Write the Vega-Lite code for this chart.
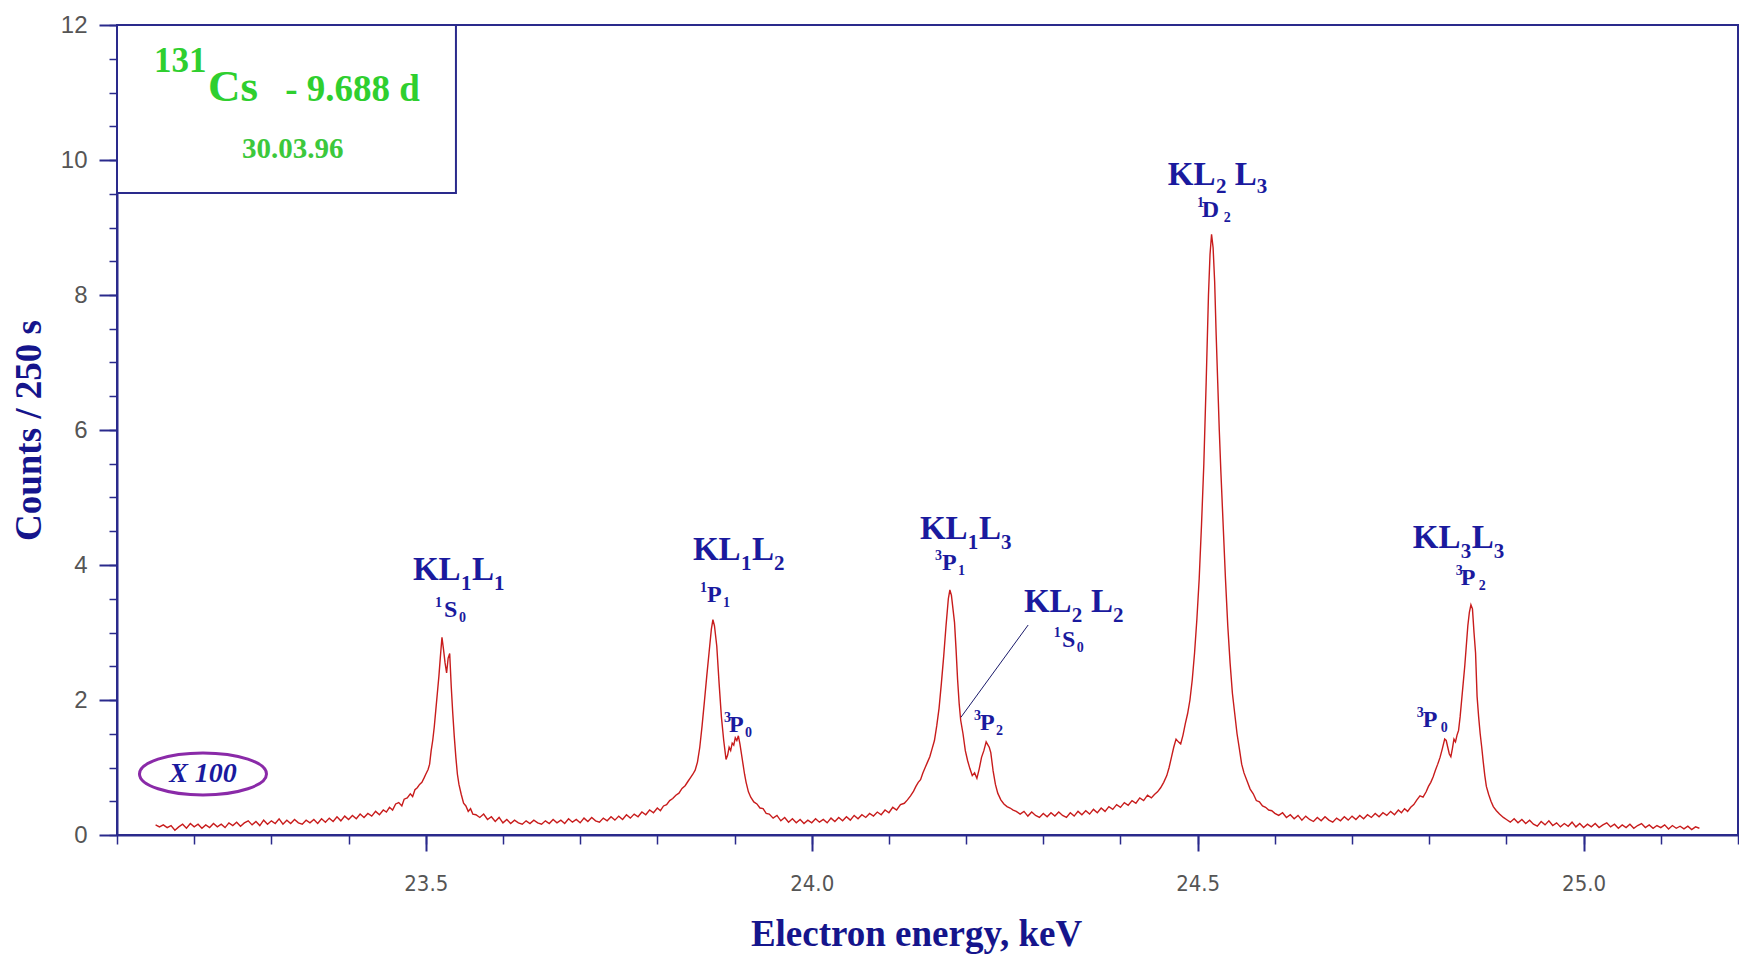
{
  "$schema": "https://vega.github.io/schema/vega-lite/v6.json",
  "width": 1621,
  "height": 810,
  "autosize": {"type": "none"},
  "padding": {"left": 117, "top": 25, "right": 1, "bottom": 121},
  "background": "white",
  "config": {
    "view": {"stroke": "#2a2a8c", "strokeWidth": 2},
    "axis": {"grid": false, "domainColor": "#2a2a8c", "tickColor": "#2a2a8c"}
  },
  "resolve": {"axis": {"x": "independent", "y": "independent"}},
  "datasets": {
    "spec": [
      {"e":23.150,"c":0.15},{"e":23.155,"c":0.12},{"e":23.160,"c":0.15},{"e":23.165,"c":0.11},{"e":23.170,"c":0.14},{"e":23.175,"c":0.07},{"e":23.180,"c":0.12},{"e":23.185,"c":0.16},{"e":23.190,"c":0.10},{"e":23.195,"c":0.17},
      {"e":23.200,"c":0.12},{"e":23.205,"c":0.16},{"e":23.210,"c":0.10},{"e":23.215,"c":0.15},{"e":23.220,"c":0.11},{"e":23.225,"c":0.17},{"e":23.230,"c":0.12},{"e":23.235,"c":0.16},{"e":23.240,"c":0.11},{"e":23.245,"c":0.18},
      {"e":23.250,"c":0.14},{"e":23.255,"c":0.19},{"e":23.260,"c":0.13},{"e":23.265,"c":0.18},{"e":23.270,"c":0.21},{"e":23.275,"c":0.15},{"e":23.280,"c":0.20},{"e":23.285,"c":0.14},{"e":23.290,"c":0.22},{"e":23.295,"c":0.16},
      {"e":23.300,"c":0.21},{"e":23.305,"c":0.17},{"e":23.310,"c":0.24},{"e":23.315,"c":0.16},{"e":23.320,"c":0.22},{"e":23.325,"c":0.17},{"e":23.330,"c":0.23},{"e":23.335,"c":0.18},{"e":23.340,"c":0.16},{"e":23.345,"c":0.22},
      {"e":23.350,"c":0.18},{"e":23.355,"c":0.23},{"e":23.360,"c":0.17},{"e":23.365,"c":0.24},{"e":23.370,"c":0.19},{"e":23.375,"c":0.25},{"e":23.380,"c":0.20},{"e":23.385,"c":0.27},{"e":23.390,"c":0.21},{"e":23.395,"c":0.28},
      {"e":23.400,"c":0.23},{"e":23.405,"c":0.29},{"e":23.410,"c":0.24},{"e":23.415,"c":0.31},{"e":23.420,"c":0.26},{"e":23.425,"c":0.32},{"e":23.430,"c":0.28},{"e":23.435,"c":0.35},{"e":23.440,"c":0.30},{"e":23.445,"c":0.37},
      {"e":23.449,"c":0.34},{"e":23.453,"c":0.41},{"e":23.457,"c":0.37},{"e":23.461,"c":0.46},{"e":23.465,"c":0.48},{"e":23.469,"c":0.43},{"e":23.472,"c":0.53},{"e":23.476,"c":0.55},{"e":23.480,"c":0.61},{"e":23.483,"c":0.57},
      {"e":23.486,"c":0.67},{"e":23.489,"c":0.70},{"e":23.492,"c":0.75},{"e":23.495,"c":0.78},{"e":23.498,"c":0.85},{"e":23.500,"c":0.90},{"e":23.503,"c":0.97},{"e":23.505,"c":1.05},{"e":23.507,"c":1.25},{"e":23.509,"c":1.40},
      {"e":23.511,"c":1.60},{"e":23.513,"c":1.85},{"e":23.515,"c":2.10},{"e":23.517,"c":2.35},{"e":23.519,"c":2.65},{"e":23.521,"c":2.93},{"e":23.523,"c":2.75},{"e":23.525,"c":2.55},{"e":23.527,"c":2.40},{"e":23.529,"c":2.62},
      {"e":23.531,"c":2.69},{"e":23.533,"c":2.20},{"e":23.535,"c":1.80},{"e":23.537,"c":1.45},{"e":23.539,"c":1.15},{"e":23.541,"c":0.90},{"e":23.543,"c":0.75},{"e":23.546,"c":0.60},{"e":23.549,"c":0.47},{"e":23.552,"c":0.43},
      {"e":23.555,"c":0.35},{"e":23.558,"c":0.39},{"e":23.561,"c":0.31},{"e":23.565,"c":0.30},
      {"e":23.570,"c":0.26},{"e":23.575,"c":0.31},{"e":23.580,"c":0.23},{"e":23.585,"c":0.27},{"e":23.590,"c":0.20},{"e":23.595,"c":0.26},{"e":23.600,"c":0.18},{"e":23.605,"c":0.23},{"e":23.610,"c":0.17},{"e":23.615,"c":0.22},
      {"e":23.620,"c":0.18},{"e":23.625,"c":0.16},{"e":23.630,"c":0.21},{"e":23.635,"c":0.17},{"e":23.640,"c":0.22},{"e":23.645,"c":0.18},{"e":23.650,"c":0.16},{"e":23.655,"c":0.21},{"e":23.660,"c":0.17},{"e":23.665,"c":0.23},
      {"e":23.670,"c":0.18},{"e":23.675,"c":0.22},{"e":23.680,"c":0.17},{"e":23.685,"c":0.24},{"e":23.690,"c":0.19},{"e":23.695,"c":0.23},{"e":23.700,"c":0.18},{"e":23.705,"c":0.25},{"e":23.710,"c":0.20},{"e":23.715,"c":0.26},
      {"e":23.720,"c":0.21},{"e":23.725,"c":0.19},{"e":23.730,"c":0.25},{"e":23.735,"c":0.21},{"e":23.740,"c":0.27},{"e":23.745,"c":0.22},{"e":23.750,"c":0.28},{"e":23.755,"c":0.23},{"e":23.760,"c":0.30},{"e":23.765,"c":0.25},
      {"e":23.770,"c":0.31},{"e":23.775,"c":0.27},{"e":23.780,"c":0.34},{"e":23.785,"c":0.30},{"e":23.790,"c":0.37},{"e":23.795,"c":0.33},
      {"e":23.800,"c":0.40},{"e":23.804,"c":0.36},{"e":23.808,"c":0.43},{"e":23.812,"c":0.45},{"e":23.816,"c":0.51},{"e":23.820,"c":0.54},{"e":23.824,"c":0.59},{"e":23.828,"c":0.62},{"e":23.832,"c":0.69},{"e":23.836,"c":0.73},
      {"e":23.840,"c":0.80},{"e":23.843,"c":0.85},{"e":23.846,"c":0.90},{"e":23.849,"c":0.96},{"e":23.852,"c":1.08},{"e":23.855,"c":1.30},{"e":23.858,"c":1.62},{"e":23.861,"c":1.98},{"e":23.864,"c":2.35},{"e":23.867,"c":2.70},
      {"e":23.870,"c":3.05},{"e":23.872,"c":3.19},{"e":23.874,"c":3.10},{"e":23.877,"c":2.80},{"e":23.880,"c":2.25},{"e":23.883,"c":1.75},{"e":23.886,"c":1.40},{"e":23.889,"c":1.12},{"e":23.891,"c":1.18},{"e":23.893,"c":1.30},
      {"e":23.895,"c":1.25},{"e":23.897,"c":1.36},{"e":23.899,"c":1.33},{"e":23.901,"c":1.44},{"e":23.903,"c":1.40},{"e":23.905,"c":1.47},{"e":23.907,"c":1.35},{"e":23.909,"c":1.20},{"e":23.911,"c":1.05},{"e":23.913,"c":0.90},
      {"e":23.915,"c":0.78},{"e":23.918,"c":0.64},{"e":23.921,"c":0.56},{"e":23.925,"c":0.49},{"e":23.929,"c":0.46},{"e":23.933,"c":0.40},{"e":23.937,"c":0.39},{"e":23.941,"c":0.32},{"e":23.945,"c":0.31},
      {"e":23.950,"c":0.25},{"e":23.955,"c":0.29},{"e":23.960,"c":0.21},{"e":23.965,"c":0.26},{"e":23.970,"c":0.19},{"e":23.975,"c":0.24},{"e":23.980,"c":0.18},{"e":23.985,"c":0.23},{"e":23.990,"c":0.17},{"e":23.995,"c":0.22},
      {"e":24.000,"c":0.18},{"e":24.005,"c":0.24},{"e":24.010,"c":0.19},{"e":24.015,"c":0.23},{"e":24.020,"c":0.18},{"e":24.025,"c":0.25},{"e":24.030,"c":0.20},{"e":24.035,"c":0.26},{"e":24.040,"c":0.21},{"e":24.045,"c":0.27},
      {"e":24.050,"c":0.22},{"e":24.055,"c":0.29},{"e":24.060,"c":0.24},{"e":24.065,"c":0.30},{"e":24.070,"c":0.26},{"e":24.075,"c":0.32},{"e":24.080,"c":0.28},{"e":24.085,"c":0.34},{"e":24.090,"c":0.30},{"e":24.095,"c":0.37},
      {"e":24.100,"c":0.33},{"e":24.105,"c":0.41},{"e":24.110,"c":0.37},{"e":24.115,"c":0.45},
      {"e":24.120,"c":0.47},{"e":24.124,"c":0.52},{"e":24.128,"c":0.58},{"e":24.132,"c":0.65},{"e":24.135,"c":0.72},{"e":24.138,"c":0.78},{"e":24.141,"c":0.82},{"e":24.144,"c":0.92},{"e":24.147,"c":1.00},{"e":24.150,"c":1.08},
      {"e":24.153,"c":1.16},{"e":24.156,"c":1.28},{"e":24.159,"c":1.40},{"e":24.162,"c":1.62},{"e":24.165,"c":1.88},{"e":24.168,"c":2.25},{"e":24.171,"c":2.65},{"e":24.174,"c":3.10},{"e":24.177,"c":3.50},{"e":24.179,"c":3.63},
      {"e":24.181,"c":3.55},{"e":24.183,"c":3.35},{"e":24.185,"c":3.15},{"e":24.187,"c":2.75},{"e":24.189,"c":2.30},{"e":24.191,"c":1.95},{"e":24.193,"c":1.70},{"e":24.196,"c":1.50},{"e":24.199,"c":1.25},{"e":24.202,"c":1.10},
      {"e":24.205,"c":0.98},{"e":24.208,"c":0.88},{"e":24.211,"c":0.92},{"e":24.214,"c":0.84},{"e":24.217,"c":0.98},{"e":24.220,"c":1.15},{"e":24.223,"c":1.25},{"e":24.226,"c":1.38},{"e":24.228,"c":1.34},{"e":24.230,"c":1.30},
      {"e":24.232,"c":1.22},{"e":24.235,"c":0.95},{"e":24.238,"c":0.75},{"e":24.241,"c":0.62},{"e":24.245,"c":0.52},{"e":24.249,"c":0.46},{"e":24.253,"c":0.42},{"e":24.257,"c":0.40},{"e":24.261,"c":0.37},{"e":24.265,"c":0.35},
      {"e":24.270,"c":0.31},{"e":24.275,"c":0.35},{"e":24.280,"c":0.28},{"e":24.285,"c":0.34},{"e":24.290,"c":0.29},{"e":24.295,"c":0.26},{"e":24.300,"c":0.32},{"e":24.305,"c":0.27},{"e":24.310,"c":0.33},{"e":24.315,"c":0.28},
      {"e":24.320,"c":0.34},{"e":24.325,"c":0.29},{"e":24.330,"c":0.26},{"e":24.335,"c":0.33},{"e":24.340,"c":0.28},{"e":24.345,"c":0.35},{"e":24.350,"c":0.30},{"e":24.355,"c":0.36},{"e":24.360,"c":0.31},{"e":24.365,"c":0.38},
      {"e":24.370,"c":0.33},{"e":24.375,"c":0.40},{"e":24.380,"c":0.35},{"e":24.385,"c":0.42},{"e":24.390,"c":0.38},{"e":24.395,"c":0.45},{"e":24.400,"c":0.41},{"e":24.405,"c":0.48},{"e":24.410,"c":0.44},{"e":24.415,"c":0.51},
      {"e":24.420,"c":0.47},{"e":24.425,"c":0.55},{"e":24.430,"c":0.51},{"e":24.435,"c":0.59},
      {"e":24.440,"c":0.55},{"e":24.444,"c":0.60},{"e":24.448,"c":0.64},{"e":24.452,"c":0.70},{"e":24.456,"c":0.78},{"e":24.460,"c":0.88},{"e":24.463,"c":1.00},{"e":24.466,"c":1.15},{"e":24.469,"c":1.30},{"e":24.472,"c":1.42},
      {"e":24.475,"c":1.38},{"e":24.478,"c":1.35},{"e":24.481,"c":1.48},{"e":24.484,"c":1.65},{"e":24.487,"c":1.80},{"e":24.490,"c":2.00},{"e":24.493,"c":2.30},{"e":24.496,"c":2.70},{"e":24.499,"c":3.20},{"e":24.502,"c":3.80},
      {"e":24.505,"c":4.60},{"e":24.508,"c":5.50},{"e":24.511,"c":6.70},{"e":24.514,"c":8.00},{"e":24.516,"c":8.60},{"e":24.518,"c":8.90},{"e":24.520,"c":8.70},{"e":24.522,"c":8.20},{"e":24.524,"c":7.40},{"e":24.526,"c":6.70},
      {"e":24.528,"c":6.00},{"e":24.530,"c":5.40},{"e":24.533,"c":4.60},{"e":24.536,"c":3.80},{"e":24.539,"c":3.10},{"e":24.542,"c":2.55},{"e":24.545,"c":2.10},{"e":24.548,"c":1.80},{"e":24.551,"c":1.50},{"e":24.554,"c":1.28},
      {"e":24.557,"c":1.05},{"e":24.560,"c":0.92},{"e":24.564,"c":0.80},{"e":24.568,"c":0.68},{"e":24.572,"c":0.61},{"e":24.576,"c":0.51},{"e":24.580,"c":0.49},{"e":24.584,"c":0.43},{"e":24.588,"c":0.41},{"e":24.592,"c":0.37},
      {"e":24.596,"c":0.36},{"e":24.600,"c":0.32},
      {"e":24.605,"c":0.29},{"e":24.610,"c":0.33},{"e":24.615,"c":0.26},{"e":24.620,"c":0.30},{"e":24.625,"c":0.24},{"e":24.630,"c":0.29},{"e":24.635,"c":0.22},{"e":24.640,"c":0.28},{"e":24.645,"c":0.23},{"e":24.650,"c":0.20},
      {"e":24.655,"c":0.26},{"e":24.660,"c":0.21},{"e":24.665,"c":0.27},{"e":24.670,"c":0.22},{"e":24.675,"c":0.19},{"e":24.680,"c":0.25},{"e":24.685,"c":0.21},{"e":24.690,"c":0.27},{"e":24.695,"c":0.22},{"e":24.700,"c":0.28},
      {"e":24.705,"c":0.23},{"e":24.710,"c":0.29},{"e":24.715,"c":0.24},{"e":24.720,"c":0.30},{"e":24.725,"c":0.26},{"e":24.730,"c":0.32},{"e":24.735,"c":0.27},{"e":24.740,"c":0.33},{"e":24.745,"c":0.29},{"e":24.750,"c":0.35},
      {"e":24.755,"c":0.30},
      {"e":24.760,"c":0.37},{"e":24.764,"c":0.33},{"e":24.768,"c":0.39},{"e":24.772,"c":0.35},{"e":24.776,"c":0.41},{"e":24.780,"c":0.45},{"e":24.784,"c":0.52},{"e":24.788,"c":0.58},{"e":24.792,"c":0.56},{"e":24.796,"c":0.64},
      {"e":24.799,"c":0.72},{"e":24.802,"c":0.78},{"e":24.805,"c":0.86},{"e":24.808,"c":0.96},{"e":24.811,"c":1.05},{"e":24.814,"c":1.15},{"e":24.817,"c":1.28},{"e":24.820,"c":1.42},{"e":24.822,"c":1.40},{"e":24.824,"c":1.30},
      {"e":24.826,"c":1.20},{"e":24.828,"c":1.16},{"e":24.830,"c":1.28},{"e":24.832,"c":1.42},{"e":24.834,"c":1.38},{"e":24.836,"c":1.48},{"e":24.838,"c":1.55},{"e":24.840,"c":1.75},{"e":24.842,"c":2.00},{"e":24.844,"c":2.25},
      {"e":24.846,"c":2.50},{"e":24.848,"c":2.80},{"e":24.850,"c":3.10},{"e":24.852,"c":3.30},{"e":24.854,"c":3.41},{"e":24.856,"c":3.35},{"e":24.858,"c":3.00},{"e":24.860,"c":2.70},{"e":24.862,"c":2.05},{"e":24.864,"c":1.75},
      {"e":24.866,"c":1.50},{"e":24.868,"c":1.30},{"e":24.870,"c":1.08},{"e":24.872,"c":0.88},{"e":24.874,"c":0.72},{"e":24.877,"c":0.60},{"e":24.880,"c":0.50},{"e":24.883,"c":0.42},{"e":24.887,"c":0.36},{"e":24.891,"c":0.31},
      {"e":24.896,"c":0.26},{"e":24.900,"c":0.23},
      {"e":24.905,"c":0.19},{"e":24.910,"c":0.24},{"e":24.915,"c":0.18},{"e":24.920,"c":0.23},{"e":24.925,"c":0.17},{"e":24.930,"c":0.22},{"e":24.935,"c":0.16},{"e":24.940,"c":0.13},{"e":24.945,"c":0.20},{"e":24.950,"c":0.15},
      {"e":24.955,"c":0.21},{"e":24.960,"c":0.14},{"e":24.965,"c":0.18},{"e":24.970,"c":0.12},{"e":24.975,"c":0.17},{"e":24.980,"c":0.13},{"e":24.985,"c":0.19},{"e":24.990,"c":0.12},{"e":24.995,"c":0.17},{"e":25.000,"c":0.11},
      {"e":25.005,"c":0.16},{"e":25.010,"c":0.12},{"e":25.015,"c":0.17},{"e":25.020,"c":0.11},{"e":25.025,"c":0.15},{"e":25.030,"c":0.18},{"e":25.035,"c":0.12},{"e":25.040,"c":0.16},{"e":25.045,"c":0.10},{"e":25.050,"c":0.15},
      {"e":25.055,"c":0.11},{"e":25.060,"c":0.16},{"e":25.065,"c":0.10},{"e":25.070,"c":0.14},{"e":25.075,"c":0.17},{"e":25.080,"c":0.11},{"e":25.085,"c":0.15},{"e":25.090,"c":0.10},{"e":25.095,"c":0.14},{"e":25.100,"c":0.11},
      {"e":25.105,"c":0.15},{"e":25.110,"c":0.09},{"e":25.115,"c":0.14},{"e":25.120,"c":0.10},{"e":25.125,"c":0.13},{"e":25.130,"c":0.09},{"e":25.135,"c":0.13},{"e":25.140,"c":0.08},{"e":25.145,"c":0.12},{"e":25.150,"c":0.10}
    ],
    "ann": [
      {"e":23.4834,"c":3.778,"t":"KL","k":"big"},{"e":23.5456,"c":3.630,"t":"1","k":"sub"},{"e":23.5598,"c":3.778,"t":"L","k":"big"},{"e":23.5883,"c":3.630,"t":"1","k":"sub"},
      {"e":23.8461,"c":4.074,"t":"KL","k":"big"},{"e":23.9083,"c":3.926,"t":"1","k":"sub"},{"e":23.9225,"c":4.074,"t":"L","k":"big"},{"e":23.9510,"c":3.926,"t":"2","k":"sub"},
      {"e":24.1402,"c":4.385,"t":"KL","k":"big"},{"e":24.2023,"c":4.237,"t":"1","k":"sub"},{"e":24.2166,"c":4.385,"t":"L","k":"big"},{"e":24.2451,"c":4.237,"t":"3","k":"sub"},
      {"e":24.2749,"c":3.304,"t":"KL","k":"big"},{"e":24.3370,"c":3.156,"t":"2","k":"sub"},{"e":24.3617,"c":3.304,"t":"L","k":"big"},{"e":24.3902,"c":3.156,"t":"2","k":"sub"},
      {"e":24.4614,"c":9.630,"t":"KL","k":"big"},{"e":24.5236,"c":9.510,"t":"2","k":"sub"},{"e":24.5482,"c":9.630,"t":"L","k":"big"},{"e":24.5767,"c":9.510,"t":"3","k":"sub"},
      {"e":24.7788,"c":4.252,"t":"KL","k":"big"},{"e":24.8409,"c":4.104,"t":"3","k":"sub"},{"e":24.8552,"c":4.252,"t":"L","k":"big"},{"e":24.8837,"c":4.104,"t":"3","k":"sub"},
      {"e":23.5119,"c":3.378,"t":"1","k":"tsup"},{"e":23.5236,"c":3.230,"t":"S","k":"term"},{"e":23.5430,"c":3.156,"t":"0","k":"tsub"},
      {"e":23.8552,"c":3.600,"t":"1","k":"tsup"},{"e":23.8642,"c":3.452,"t":"P","k":"term"},{"e":23.8850,"c":3.378,"t":"1","k":"tsub"},
      {"e":23.8863,"c":1.674,"t":"3","k":"tsup"},{"e":23.8927,"c":1.526,"t":"P","k":"term"},{"e":23.9135,"c":1.452,"t":"0","k":"tsub"},
      {"e":24.1596,"c":4.074,"t":"3","k":"tsup"},{"e":24.1687,"c":3.926,"t":"P","k":"term"},{"e":24.1894,"c":3.852,"t":"1","k":"tsub"},
      {"e":24.3137,"c":2.933,"t":"1","k":"tsup"},{"e":24.3241,"c":2.785,"t":"S","k":"term"},{"e":24.3435,"c":2.711,"t":"0","k":"tsub"},
      {"e":24.2101,"c":1.704,"t":"3","k":"tsup"},{"e":24.2179,"c":1.556,"t":"P","k":"term"},{"e":24.2386,"c":1.481,"t":"2","k":"tsub"},
      {"e":24.4990,"c":9.300,"t":"1","k":"tsup"},{"e":24.5054,"c":9.152,"t":"D","k":"term"},{"e":24.5339,"c":9.078,"t":"2","k":"tsub"},
      {"e":24.8345,"c":3.852,"t":"3","k":"tsup"},{"e":24.8409,"c":3.704,"t":"P","k":"term"},{"e":24.8642,"c":3.630,"t":"2","k":"tsub"},
      {"e":24.7839,"c":1.748,"t":"3","k":"tsup"},{"e":24.7917,"c":1.600,"t":"P","k":"term"},{"e":24.8150,"c":1.526,"t":"0","k":"tsub"},
      {"e":23.1479,"c":11.304,"t":"131","k":"gsup"},{"e":23.2179,"c":10.879,"t":"Cs","k":"gbig"},{"e":23.3180,"c":10.879,"t":"- 9.688 d","k":"gmid"},{"e":23.2619,"c":10.030,"t":"30.03.96","k":"gdate"}
    ]
  },
  "layer": [
    {
      "data": {"values": [{"e": 23.1, "e2": 23.5391, "c": 12, "c2": 9.511}]},
      "mark": {"type": "rect", "fill": "white", "stroke": "#2a2a8c", "strokeWidth": 2},
      "encoding": {
        "x": {"field": "e", "type": "quantitative", "scale": {"domain": [23.1, 25.2], "nice": false, "zero": false},
          "axis": {"orient": "bottom", "values": [23.1,23.2,23.3,23.4,23.5,23.6,23.7,23.8,23.9,24.0,24.1,24.2,24.3,24.4,24.5,24.6,24.7,24.8,24.9,25.0,25.1,25.2], "labels": false, "domain": false, "tickSize": 9, "tickWidth": 1.5, "title": null}},
        "x2": {"field": "e2"},
        "y": {"field": "c", "type": "quantitative", "scale": {"domain": [0, 12], "nice": false, "zero": false},
          "axis": {"orient": "left", "values": [0,0.5,1,1.5,2,2.5,3,3.5,4,4.5,5,5.5,6,6.5,7,7.5,8,8.5,9,9.5,10,10.5,11,11.5,12], "labels": false, "domain": false, "tickSize": 8, "tickWidth": 1.5, "title": null}},
        "y2": {"field": "c2"}
      }
    },
    {
      "data": {"name": "spec"},
      "mark": {"type": "line", "color": "#c81c1c", "strokeWidth": 1.4},
      "encoding": {
        "x": {"field": "e", "type": "quantitative",
          "axis": {"orient": "bottom", "values": [23.5, 24.0, 24.5, 25.0], "format": ".1f", "tickSize": 16, "tickWidth": 2, "domainWidth": 2,
            "labelFont": "Liberation Sans Narrow, DejaVu Sans Condensed, sans-serif", "labelFontSize": 22, "labelColor": "#555555", "labelPadding": 22,
            "title": "Electron energy, keV", "titleFont": "Liberation Serif", "titleFontWeight": "bold", "titleFontSize": 37, "titleColor": "#15158c", "titlePadding": 22, "titleX": 799, "titleAlign": "center"}},
        "y": {"field": "c", "type": "quantitative",
          "axis": {"orient": "left", "values": [0, 2, 4, 6, 8, 10, 12], "tickSize": 18, "tickWidth": 2, "domainWidth": 2,
            "labelFont": "Liberation Sans", "labelFontSize": 24, "labelColor": "#555555", "labelPadding": 12,
            "title": "Counts / 250 s", "titleFont": "Liberation Serif", "titleFontWeight": "bold", "titleFontSize": 37, "titleColor": "#15158c", "titlePadding": 12}}
      }
    },
    {
      "data": {"values": [{"e": 24.2804, "c": 3.111, "e2": 24.1933, "c2": 1.744}]},
      "mark": {"type": "rule", "color": "#1a1a6a", "strokeWidth": 1},
      "encoding": {
        "x": {"field": "e", "type": "quantitative", "axis": null},
        "y": {"field": "c", "type": "quantitative", "axis": null},
        "x2": {"field": "e2"},
        "y2": {"field": "c2"}
      }
    },
    {
      "data": {"values": [{"e": 23.2114, "c": 0.904, "t": "X 100"}]},
      "mark": {"type": "point", "shape": "M -1 0 A 1 0.33 0 1 0 1 0 A 1 0.33 0 1 0 -1 0 Z", "size": 16129, "filled": false, "stroke": "#8a2aa8", "strokeWidth": 3, "opacity": 1},
      "encoding": {
        "x": {"field": "e", "type": "quantitative", "axis": null},
        "y": {"field": "c", "type": "quantitative", "axis": null}
      }
    },
    {
      "data": {"values": [{"e": 23.2114, "c": 0.904, "t": "X 100"}]},
      "mark": {"type": "text", "font": "Liberation Serif", "fontWeight": "bold", "fontStyle": "italic", "fontSize": 28, "color": "#1a1a9e", "align": "center", "baseline": "middle"},
      "encoding": {
        "x": {"field": "e", "type": "quantitative", "axis": null},
        "y": {"field": "c", "type": "quantitative", "axis": null},
        "text": {"field": "t"}
      }
    },
    {
      "data": {"name": "ann"},
      "transform": [{"filter": "datum.k === 'big'"}],
      "mark": {"type": "text", "font": "Liberation Serif", "fontWeight": "bold", "fontSize": 33, "color": "#1a1a9e", "align": "left", "baseline": "alphabetic"},
      "encoding": {"x": {"field": "e", "type": "quantitative", "axis": null}, "y": {"field": "c", "type": "quantitative", "axis": null}, "text": {"field": "t"}}
    },
    {
      "data": {"name": "ann"},
      "transform": [{"filter": "datum.k === 'sub'"}],
      "mark": {"type": "text", "font": "Liberation Serif", "fontWeight": "bold", "fontSize": 21, "color": "#1a1a9e", "align": "left", "baseline": "alphabetic"},
      "encoding": {"x": {"field": "e", "type": "quantitative", "axis": null}, "y": {"field": "c", "type": "quantitative", "axis": null}, "text": {"field": "t"}}
    },
    {
      "data": {"name": "ann"},
      "transform": [{"filter": "datum.k === 'term'"}],
      "mark": {"type": "text", "font": "Liberation Serif", "fontWeight": "bold", "fontSize": 24, "color": "#1a1a9e", "align": "left", "baseline": "alphabetic"},
      "encoding": {"x": {"field": "e", "type": "quantitative", "axis": null}, "y": {"field": "c", "type": "quantitative", "axis": null}, "text": {"field": "t"}}
    },
    {
      "data": {"name": "ann"},
      "transform": [{"filter": "datum.k === 'tsup' || datum.k === 'tsub'"}],
      "mark": {"type": "text", "font": "Liberation Serif", "fontWeight": "bold", "fontSize": 14, "color": "#1a1a9e", "align": "left", "baseline": "alphabetic"},
      "encoding": {"x": {"field": "e", "type": "quantitative", "axis": null}, "y": {"field": "c", "type": "quantitative", "axis": null}, "text": {"field": "t"}}
    },
    {
      "data": {"name": "ann"},
      "transform": [{"filter": "datum.k === 'gsup'"}],
      "mark": {"type": "text", "font": "Liberation Serif", "fontWeight": "bold", "fontSize": 35, "color": "#2fcf2f", "align": "left", "baseline": "alphabetic"},
      "encoding": {"x": {"field": "e", "type": "quantitative", "axis": null}, "y": {"field": "c", "type": "quantitative", "axis": null}, "text": {"field": "t"}}
    },
    {
      "data": {"name": "ann"},
      "transform": [{"filter": "datum.k === 'gbig'"}],
      "mark": {"type": "text", "font": "Liberation Serif", "fontWeight": "bold", "fontSize": 45, "color": "#2fcf2f", "align": "left", "baseline": "alphabetic"},
      "encoding": {"x": {"field": "e", "type": "quantitative", "axis": null}, "y": {"field": "c", "type": "quantitative", "axis": null}, "text": {"field": "t"}}
    },
    {
      "data": {"name": "ann"},
      "transform": [{"filter": "datum.k === 'gmid'"}],
      "mark": {"type": "text", "font": "Liberation Serif", "fontWeight": "bold", "fontSize": 37, "color": "#2fcf2f", "align": "left", "baseline": "alphabetic"},
      "encoding": {"x": {"field": "e", "type": "quantitative", "axis": null}, "y": {"field": "c", "type": "quantitative", "axis": null}, "text": {"field": "t"}}
    },
    {
      "data": {"name": "ann"},
      "transform": [{"filter": "datum.k === 'gdate'"}],
      "mark": {"type": "text", "font": "Liberation Serif", "fontWeight": "bold", "fontSize": 29, "color": "#3cc83c", "align": "left", "baseline": "alphabetic"},
      "encoding": {"x": {"field": "e", "type": "quantitative", "axis": null}, "y": {"field": "c", "type": "quantitative", "axis": null}, "text": {"field": "t"}}
    }
  ]
}
